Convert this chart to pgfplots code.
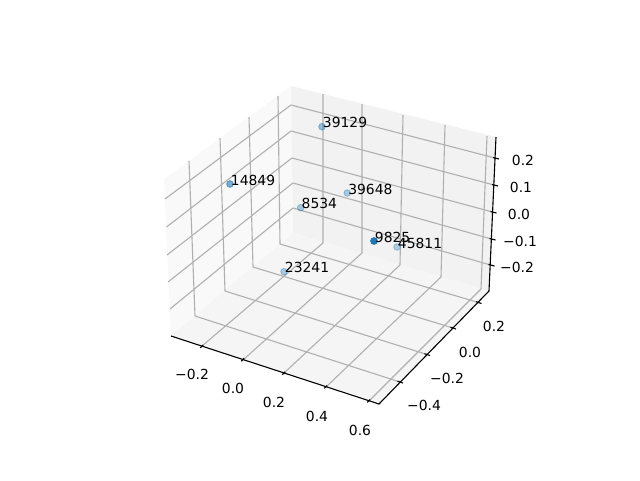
\documentclass[border=0pt]{standalone}
\usepackage{fontspec}
\setmainfont{DejaVu Sans}
\usepackage{pgfplots}
\pgfplotsset{compat=1.18}
\definecolor{PaneX}{HTML}{F9F9F9}
\definecolor{PaneY}{HTML}{F2F2F2}
\definecolor{PaneZ}{HTML}{F5F5F5}
\definecolor{GridGray}{HTML}{B0B0B0}
\definecolor{Dots}{HTML}{1F77B4}
\pgfplotsset{
  dot/.style={only marks, mark=*, mark size=2.5pt, mark options={draw=Dots, fill=Dots, opacity=#1, line width=0.7pt}},
  labels/.style={only marks, mark=none, nodes near coords, point meta=explicit symbolic,
    every node near coord/.style={font=\fontsize{10.42}{12}\selectfont, text=black, inner sep=0pt, anchor=#1}},
  gridline/.style={draw=GridGray, line width=0.83pt, mark=none, line join=round},
  axline/.style={draw=black, line width=0.83pt, mark=none}
}
\begin{document}
\begin{tikzpicture}
\useasboundingbox (0,0) rectangle (480pt,360pt);
% the 3d box is drawn in picture pixels, projection read off the reference
\begin{axis}[
  at={(0,0)}, anchor=south west,
  scale only axis, width=480pt, height=360pt,
  xmin=0, xmax=640, ymin=0, ymax=480, y dir=reverse,
  hide axis, clip=false, unbounded coords=jump
]
% panes
\addplot[fill=PaneX, draw=none, mark=none] coordinates {(164,179)(291,86)(293,233)(171,336)} --cycle;
\addplot[fill=PaneY, draw=none, mark=none] coordinates {(291,86)(496,137)(489,291)(293,233)} --cycle;
\addplot[fill=PaneZ, draw=none, mark=none] coordinates {(171,336)(293,233)(489,291)(379,404)} --cycle;
% x grid: floor then back wall
\addplot[gridline] coordinates {
  (202,346)(323,243)(323,94) (nan,nan)
  (243,360)(362,253)(362,104) (nan,nan)
  (284,373)(400,265)(403,115) (nan,nan)
  (326,387)(441,277)(445,125) (nan,nan)
  (369,401)(481,289)(487,136)};
% y grid: floor then left wall
\addplot[gridline] coordinates {
  (400,382)(195,316)(189,161) (nan,nan)
  (427,354.5)(225,291)(220,138) (nan,nan)
  (453,328)(253,267)(249,117) (nan,nan)
  (478.5,302.5)(280,244)(278,96)};
% z grid: back wall then left wall
\addplot[gridline] coordinates {
  (495,158)(291,105)(165,199) (nan,nan)
  (494,185)(291,131)(166.5,227) (nan,nan)
  (492.5,212)(292,158)(167,255) (nan,nan)
  (491.5,239)(293,183)(168,282) (nan,nan)
  (490.5,265)(293,208)(170,309)};
% axis lines and ticks
\addplot[axline] coordinates {(171,336)(379,404)(489,291)(496,137)};
\addplot[axline] coordinates {
  (200.3,347.8)(203.2,344.9) (nan,nan)
  (241.3,361.2)(244.2,358.3) (nan,nan)
  (282.3,374.7)(285.2,371.8) (nan,nan)
  (324.3,388.4)(327.2,385.5) (nan,nan)
  (367.3,402.4)(370.2,399.5) (nan,nan)
  (476,301.7)(481.5,303.5) (nan,nan)
  (450.5,327.2)(456,329) (nan,nan)
  (424.5,353.7)(430,355.5) (nan,nan)
  (397.5,381.2)(403,383) (nan,nan)
  (493,157.5)(499,159) (nan,nan)
  (492,184.5)(498,186) (nan,nan)
  (490.5,211.5)(496.5,213) (nan,nan)
  (489.5,238.5)(495.5,240) (nan,nan)
  (488.5,264.5)(494.5,266)};
% scatter
\addplot[dot=0.3] coordinates {(397,247)};
\addplot[dot=0.35] coordinates {(284,271.7)(300.7,207.7)(347.3,193)};
\addplot[dot=0.42] coordinates {(322,126.7)};
\addplot[dot=0.58] coordinates {(230,184)};
\addplot[dot=1] coordinates {(374,241)};
% point labels, nudged off the dots as in the reference
\addplot[labels=base west] table[meta=label] {
x y label
322.7 127.7 39129
230.7 185 14849
301.4 208.7 8534
348 194 39648
374.7 242 9825
397.7 248 45811
284.7 272.7 23241
};
% tick labels
\addplot[labels=center] table[meta=label] {
x y label
192 374 −0.2
233 388 0.0
274 402 0.2
317 416 0.4
360 430 0.6
494 326 0.2
470 352 0.0
447 378 −0.2
424 405 −0.4
523 160.7 0.2
521 187.7 0.1
519 214.7 0.0
520 241.7 −0.1
517 267.7 −0.2
};
\end{axis}
\end{tikzpicture}
\end{document}
